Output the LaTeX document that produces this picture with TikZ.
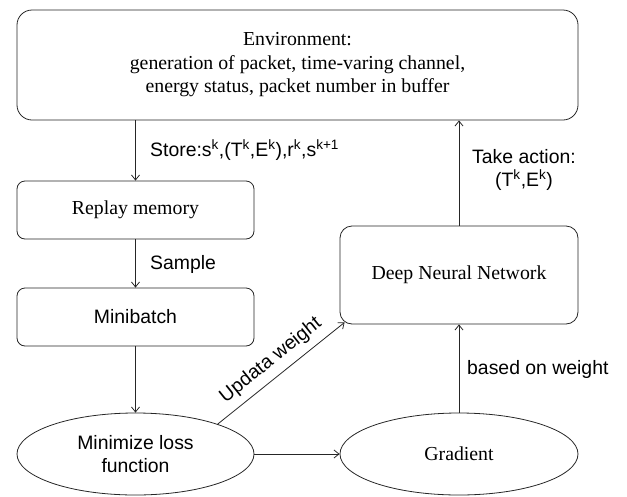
\documentclass[tikz,border=0pt]{standalone}
\usepackage{fontspec}
\setmainfont{Liberation Serif}
\setsansfont{Liberation Sans}
\usetikzlibrary{shapes.geometric,arrows.meta,calc}
\begin{document}
\begin{tikzpicture}[x=1pt,y=-1pt,
  every node/.style={font=\fontsize{19.8}{23.5}\selectfont},
  sf/.style={font=\sffamily\fontsize{19.4}{23.5}\selectfont},
  rbox/.style={draw=black!85,line width=0.8pt,rounded corners=#1,inner sep=0pt,align=center},
  ell/.style={draw=black!85,line width=0.8pt,ellipse,inner sep=0pt,align=center},
  lab/.style={sf,inner sep=0pt,align=center},
  arr/.style={draw=black!85,line width=0.8pt,-{Straight Barb[length=5pt,width=8pt]}}]
\useasboundingbox (0,0) rectangle (627,496);
\node[rbox=15pt,minimum width=561pt,minimum height=110pt] (env) at (297.5,65)
  {Environment:\\generation of packet, time-varing channel,\\energy status, packet number in buffer};
\node[rbox=8pt,minimum width=237pt,minimum height=58pt] (replay) at (135.5,210) {Replay memory};
\node[rbox=8pt,minimum width=237pt,minimum height=58pt,sf] (mini) at (135.5,317) {Minibatch};
\node[ell,minimum width=237pt,minimum height=82pt,sf] (loss) at (135.5,454) {Minimize loss\\function};
\node[ell,minimum width=238pt,minimum height=82pt] (grad) at (459,454) {Gradient};
\node[rbox=12pt,minimum width=238pt,minimum height=98pt] (dnn) at (459,275) {Deep Neural Network};

\draw[arr] (replay.north |- env.south) -- (replay.north);
\node[lab,anchor=west] (store) at (150,150) {Store:s\textsuperscript{k},(T\textsuperscript{k},E\textsuperscript{k}),r\textsuperscript{k},s\textsuperscript{k+1}};
\draw[arr] (replay.south) -- (mini.north);
\node[lab,anchor=west] (sample) at (150,264) {Sample};
\draw[arr] (mini.south) -- (loss.north);
\draw[arr] (loss.east) -- (grad.west);
\draw[arr] (grad.north) -- (dnn.south);
\node[lab,anchor=west] (based) at (467,369) {based on weight};
\draw[arr] (dnn.north) -- (dnn.north |- env.south);
\node[lab] (take) at (524,170) {Take action:\\(T\textsuperscript{k},E\textsuperscript{k})};
\coordinate (uend) at ($(dnn.south west)+(5,-2)$);
\draw[arr] (loss.20) -- node[lab,midway,sloped,above=7pt] (upd) {Updata weight} (uend);
\end{tikzpicture}
\end{document}
